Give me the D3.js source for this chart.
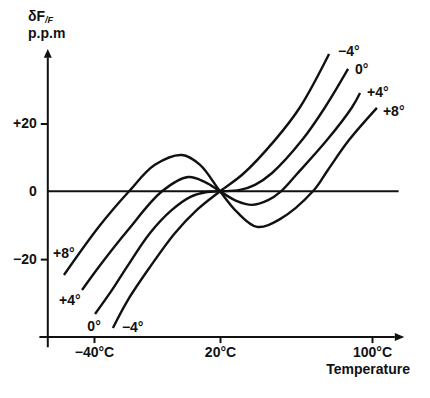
<!DOCTYPE html>
<html>
<head>
<meta charset="utf-8">
<script src="https://d3js.org/d3.v7.min.js"></script>
<style>
  body { margin: 0; background: #fff; }
  svg { display: block; font-family: "Liberation Sans", Arial, sans-serif; font-weight: bold; }
  text { fill: #111; }
</style>
</head>
<body>
<script>

// curve labels (cut angle offset)
var curveNames = ["\u22124\u00b0", "0\u00b0", "+4\u00b0", "+8\u00b0"];

// temperature (deg C) and frequency shift (ppm)
var tempMinus4 = [-31.0, -23.8, -13.3, -1.4, 9.0, 20, 32.1, 48.9, 62.1, 77.4];
var ppmMinus4  = [-40.3, -32.0, -22.3, -12.3, -5.5, 0, 5.1, 15.1, 24.8, 40.5];

var tempZero = [-39.5, -31.4, -24.3, -13.3, -2.9, 5.7, 13.8, 20, 30.5, 38.4, 47.4, 63.2, 75.3, 87.4];
var ppmZero  = [-36.2, -29.1, -22.3, -12.3, -5.5, -1.7, -0.2, 0, 0.4, 1.9, 5.4, 15.1, 24.8, 36.1];

var tempPlus4 = [-45.7, -37.1, -23.8, -7.6, 4.8, 12.9, 20, 28.9, 36.8, 45.3, 52.1, 60.5, 76.3, 89.5, 93.7];
var ppmPlus4  = [-29.1, -21.8, -11.4, 0, 4.2, 2.7, 0, -2.9, -4.0, -2.6, 0, 5.1, 15.1, 24.8, 29.0];

var tempPlus8 = [-54.3, -37.6, -23.3, -11.0, 1.9, 10.5, 20, 28.9, 39.5, 51.6, 68.9, 76.8, 87.9, 102.6];
var ppmPlus8  = [-24.7, -10.4, 0, 7.8, 10.7, 7.8, 0, -6.1, -10.5, -8.2, 0, 6.3, 15.1, 24.6];

// axis ticks
var xTicks = [-40, 20, 100];
var yTicks = [-20, 0, 20];

window.onload = drawChart

function drawChart()
{
  var svg = d3.select("body").append("svg")
              .attr("width", 430)
              .attr("height", 398)

  // the temperature axis of the original is not evenly spaced
  var x = d3.scaleLinear().domain([-40, 20, 100]).range([94, 220, 372])
  var y = d3.scaleLinear().domain([-20, 20]).range([259.1, 123.5])

  var series = [
    {name: curveNames[0], t: tempMinus4, v: ppmMinus4},
    {name: curveNames[1], t: tempZero, v: ppmZero},
    {name: curveNames[2], t: tempPlus4, v: ppmPlus4},
    {name: curveNames[3], t: tempPlus8, v: ppmPlus8}
  ]
  series.forEach(function(s)
  {
    s.points = s.t.map(function(d, i) { return [d, s.v[i]] })
  })

  var axisX = -62      // where the ppm axis sits on the temperature scale
  var axisY = -43      // where the temperature axis sits on the ppm scale

  // zero line
  svg.append("line")
     .attr("x1", x(axisX)).attr("x2", x(114))
     .attr("y1", y(0)).attr("y2", y(0))
     .attr("stroke", "#111").attr("stroke-width", 2)

  // curves
  var line = d3.line()
               .x(function(d) { return x(d[0]) })
               .y(function(d) { return y(d[1]) })
               .curve(d3.curveCatmullRom.alpha(0.5))

  svg.selectAll(".curve").data(series).enter()
     .append("path")
     .attr("class", "curve")
     .attr("d", function(d) { return line(d.points) })
     .attr("fill", "none")
     .attr("stroke", "#111")
     .attr("stroke-width", 2.4)

  // labels at both ends of every curve
  var rightOffset = [[9, 2], [7, 5], [7, 4], [6, 8]]
  var leftOffset = [[9, 4], [-1, 17], [-23, 15], [-11, -17]]
  series.forEach(function(s, i)
  {
    var last = s.points[s.points.length - 1]
    var first = s.points[0]
    svg.append("text")
       .attr("x", x(last[0]) + rightOffset[i][0])
       .attr("y", y(last[1]) + rightOffset[i][1])
       .attr("font-size", 14)
       .text(s.name)
    svg.append("text")
       .attr("x", x(first[0]) + leftOffset[i][0])
       .attr("y", y(first[1]) + leftOffset[i][1])
       .attr("font-size", 14)
       .attr("text-anchor", i == 1 ? "middle" : "start")
       .text(s.name)
  })

  // ppm axis with ticks
  var yAxis = d3.axisLeft(y)
                .tickValues(yTicks)
                .tickSize(7)
                .tickPadding(4)
                .tickFormat(function(d) { return d > 0 ? "+" + d : (d < 0 ? "\u2212" + Math.abs(d) : "0") })
  var gy = svg.append("g")
              .attr("transform", "translate(" + x(axisX) + ",0)")
              .call(yAxis)
  gy.select(".domain").remove()
  gy.selectAll(".tick line").attr("stroke", "#111").attr("stroke-width", 2)
  gy.selectAll(".tick").filter(function(d) { return d == 0 }).select("line").remove()
  gy.selectAll(".tick text").attr("font-size", 14).attr("font-family", null).attr("fill", "#111")

  svg.append("line")
     .attr("x1", x(axisX)).attr("x2", x(axisX))
     .attr("y1", y(-46)).attr("y2", y(39.5))
     .attr("stroke", "#111").attr("stroke-width", 2)
  svg.append("path")
     .attr("d", d3.line()([[x(axisX) - 4, y(39.4)], [x(axisX), y(42)], [x(axisX) + 4, y(39.4)]]) + "Z")
     .attr("fill", "#111")

  // temperature axis with ticks
  var xAxis = d3.axisBottom(x)
                .tickValues(xTicks)
                .tickSize(6)
                .tickPadding(4)
                .tickFormat(function(d) { return (d < 0 ? "\u2212" + Math.abs(d) : d) + "\u00b0C" })
  var gx = svg.append("g")
              .attr("transform", "translate(0," + y(axisY) + ")")
              .call(xAxis)
  gx.select(".domain").remove()
  gx.selectAll(".tick line").attr("stroke", "#111").attr("stroke-width", 2)
  gx.selectAll(".tick text").attr("font-size", 14).attr("font-family", null).attr("fill", "#111")

  svg.append("line")
     .attr("x1", x(-66)).attr("x2", x(112))
     .attr("y1", y(axisY)).attr("y2", y(axisY))
     .attr("stroke", "#111").attr("stroke-width", 2)
  svg.append("path")
     .attr("d", d3.line()([[x(112), y(axisY) - 4], [x(117), y(axisY)], [x(112), y(axisY) + 4]]) + "Z")
     .attr("fill", "#111")

  // axis titles
  svg.append("text")
     .attr("x", 410).attr("y", 374)
     .attr("text-anchor", "end")
     .attr("font-size", 14)
     .text("Temperature")

  var title = svg.append("text").attr("x", 28).attr("y", 21).attr("font-size", 14)
  title.append("tspan").text("\u03b4F")
  title.append("tspan").attr("dy", 2).attr("font-size", 9).attr("font-style", "italic").text("/F")
  svg.append("text")
     .attr("x", 28).attr("y", 38)
     .attr("font-size", 14)
     .text("p.p.m")
}
</script>
</body>
</html>
